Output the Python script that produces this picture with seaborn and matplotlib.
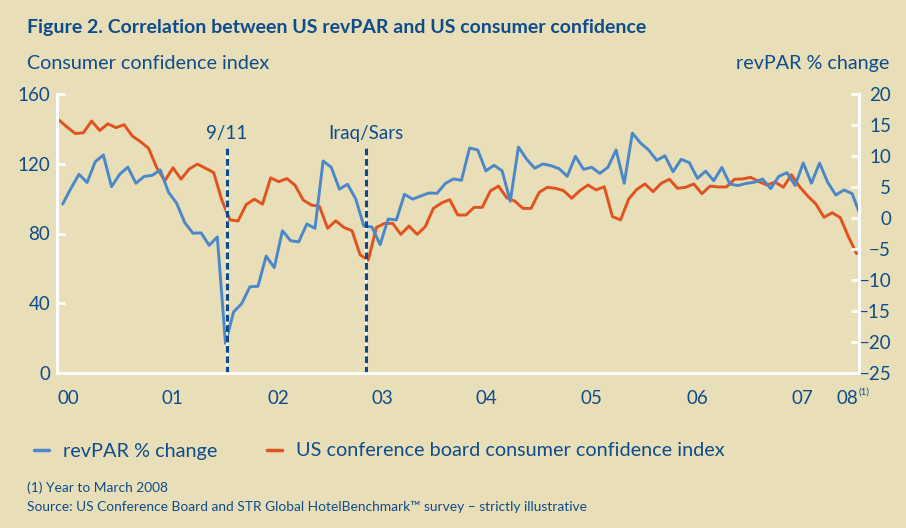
import numpy as np
import pandas as pd
import matplotlib.pyplot as plt
import seaborn as sns
from matplotlib.lines import Line2D

# monthly values, Jan 2000 .. Mar 2008
confidence = [145, 141, 137.3, 137.8, 144.5, 139.1, 142.9, 140.7, 142.4, 135.9,
              132.7, 128.9, 117.8, 110.2, 117.7, 111.2, 117, 119.8, 117.4, 115,
              99.2, 87.8, 87.2, 96.6, 99.7, 96.8, 111.9, 109.7, 111.5, 107.7,
              99.2, 96.3, 95.6, 83, 87.3, 83.5, 81.6, 67.7, 64.8, 83.5,
              85.8, 85.8, 79.5, 84.3, 79.5, 83.9, 94.4, 97.5, 99.4, 90.6,
              90.6, 95, 95, 104.4, 107.2, 100.5, 98.6, 94.4, 94.4, 103.6,
              106.5, 105.9, 104.6, 100.2, 104.6, 107.8, 105, 106.8, 89.7, 87.8,
              99.8, 105.3, 108.4, 104, 108.8, 111.1, 105.9, 106.5, 108.4, 102.8,
              107.2, 106.7, 106.7, 111.1, 111.3, 112.2, 109.7, 107.8, 109.5, 106.5,
              113.7, 106.8, 101.5, 96.9, 89.3, 91.9, 89.1, 78.2, 68.5]

revpar = [2.26, 4.75, 7.05, 5.73, 9.08, 10.16, 5.05, 7.05, 8.2, 5.6,
          6.7, 6.88, 7.74, 4.15, 2.4, -0.75, -2.45, -2.4, -4.4, -3.05,
          -20.2, -15.15, -13.8, -11.1, -11.0, -6.13, -8.0, -2.05, -3.66, -3.85,
          -0.97, -1.66, 9.2, 8.18, 4.66, 5.44, 3.1, -1.27, -1.45, -4.3,
          -0.16, -0.32, 3.82, 3.04, 3.55, 4.03, 3.98, 5.55, 6.3, 6.08,
          11.3, 10.97, 7.6, 8.5, 7.6, 2.7, 11.45, 9.5, 8.02, 8.71,
          8.44, 7.96, 6.72, 9.95, 7.85, 8.18, 7.2, 8.18, 10.97, 5.6,
          13.7, 12.1, 10.97, 9.3, 10.03, 7.47, 9.47, 8.92, 6.4, 7.55,
          6.02, 8.15, 5.45, 5.24, 5.58, 5.77, 6.29, 4.74, 6.72, 7.31,
          5.24, 8.87, 5.6, 8.87, 5.77, 3.71, 4.52, 3.93, 0.48]

year_labels = ['00', '01', '02', '03', '04', '05', '06', '07', '08']
year_pos = [1.1, 13.9, 26.9, 39.7, 52.5, 65.4, 78.4, 91.3, 96.9]

events = ['9/11', 'Iraq/Sars']
event_pos = [20.6, 37.7]

# revPAR points sit about half a month right of the confidence points
REVPAR_SHIFT = 0.45

BG = '#E8DEB8'
TXT = '#0F4C8C'
BLUE = '#4A88CA'
ORANGE = '#E0531F'
DASH = '#0B4A8E'

months = np.arange(len(confidence))
df = pd.DataFrame({'month': months,
                   'rev_month': months + REVPAR_SHIFT,
                   'confidence': confidence,
                   'revpar': revpar})

sns.set_theme(style='white')
plt.rcParams['font.family'] = ['Lato', 'DejaVu Sans']

fig = plt.figure(figsize=(9.06, 5.28), dpi=100, facecolor=BG)
ax = fig.add_axes([57/906, 1 - 373/528, (859 - 57)/906, (373 - 94)/528])
ax.set_facecolor(BG)

sns.lineplot(data=df, x='month', y='confidence', ax=ax, color=ORANGE, lw=2.1)
ax2 = ax.twinx()
sns.lineplot(data=df, x='rev_month', y='revpar', ax=ax2, color=BLUE, lw=2.1)

ax.set_xlim(-0.25, 98.3)
ax.set_ylim(0, 160)
ax.set_yticks([0, 40, 80, 120, 160])
ax2.set_ylim(-25, 20)
ax2.set_yticks(np.arange(-25, 21, 5))
ax.set_xticks(year_pos)
ax.set_xticklabels(year_labels)

for a in (ax, ax2):
    a.set_xlabel('')
    a.set_ylabel('')
    a.spines['top'].set_visible(False)
    for s in ('left', 'right', 'bottom'):
        a.spines[s].set_color('white')
        a.spines[s].set_linewidth(2)

ax.tick_params(axis='y', direction='in', length=6, width=2, color='white',
               labelcolor=TXT, labelsize=13.5, pad=5)
ax.tick_params(axis='x', length=0, labelcolor=TXT, labelsize=13.5, pad=12)
ax2.tick_params(axis='y', direction='in', length=6, width=2, color='white',
                labelcolor=TXT, labelsize=13.5, pad=23)
for t in ax2.get_yticklabels():
    t.set_horizontalalignment('right')

# event markers
for name, pos in zip(events, event_pos):
    ax2.axvline(pos, ymin=0, ymax=0.806, color='white', lw=1.2)
    ax2.axvline(pos, ymin=0, ymax=0.806, color=DASH, lw=2.2, ls=(0, (2.2, 1.2)))
    ax2.text(pos, 0.86, name, transform=ax2.get_xaxis_transform(),
             ha='center', va='center', color=TXT, fontsize=13.5)

ax.annotate('(1)', xy=(year_pos[-1], 0), xycoords=('data', 'axes fraction'),
            xytext=(11.5, -14), textcoords='offset points',
            ha='center', va='center', fontsize=7, color=TXT)

fig.text(27/906, 1 - 28/528,
         'Figure 2. Correlation between US revPAR and US consumer confidence',
         fontsize=14, fontweight='bold', color=TXT, va='center')
fig.text(27/906, 1 - 63/528, 'Consumer confidence index',
         fontsize=14.2, color=TXT, va='center')
fig.text(889/906, 1 - 63/528, 'revPAR % change',
         fontsize=14.2, color=TXT, va='center', ha='right')

handles = [Line2D([], [], color=BLUE, lw=2.5), Line2D([], [], color=ORANGE, lw=2.5)]
fig.legend(handles, ['revPAR % change', 'US conference board consumer confidence index'],
           loc='center left', bbox_to_anchor=(34/906, 1 - 451/528), ncol=2,
           frameon=False, fontsize=14.3, labelcolor=TXT, handlelength=0.75,
           handletextpad=0.7, columnspacing=2.5, borderpad=0, borderaxespad=0)

fig.text(27/906, 1 - 488/528, '(1) Year to March 2008',
         fontsize=9.9, color=TXT, va='center')
fig.text(27/906, 1 - 507/528,
         'Source: US Conference Board and STR Global HotelBenchmark\u2122 survey \u2013 strictly illustrative',
         fontsize=9.9, color=TXT, va='center')

fig.savefig('out.png', dpi=100, facecolor=BG)
